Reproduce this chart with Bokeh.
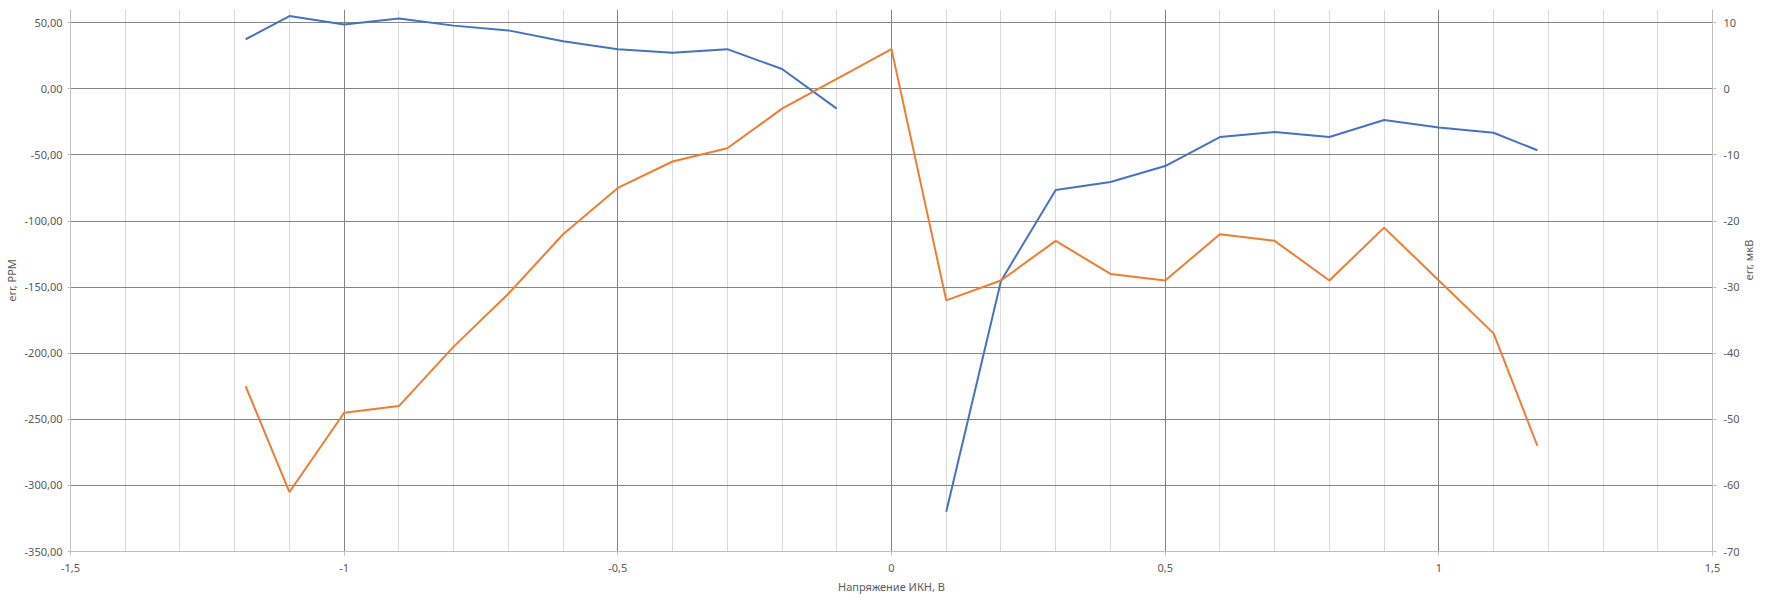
from bokeh.plotting import figure
from bokeh.models import Range1d, LinearAxis, FixedTicker, Grid
from bokeh.embed import file_html
from bokeh.resources import INLINE
import numpy as np
import math

# ---- data ----
x_vals = [-1.18, -1.1, -1.0, -0.9, -0.8, -0.7, -0.6, -0.5, -0.4, -0.3, -0.2, -0.1, 0.0,
          0.1, 0.2, 0.3, 0.4, 0.5, 0.6, 0.7, 0.8, 0.9, 1.0, 1.1, 1.18]
err_ppm = [37.5, 55.0, 48.7, 53.2, 47.8, 44.2, 36.0, 30.0, 27.2, 30.0, 15.0, -15.0, np.nan,
           -320.0, -145.3, -76.5, -70.5, -58.4, -36.5, -32.7, -36.5, -23.6, -29.2, -33.2, -46.5]
err_uv = [-45, -61, -49, -48, -39, -31, -22, -15, -11, -9, -3, 1.5, 6,
          -32, -29, -23, -28, -29, -22, -23, -29, -21, -29, -37, -54]

x_ticks = [-1.5, -1.0, -0.5, 0.0, 0.5, 1.0, 1.5]
x_tick_labels = ["-1,5", "-1", "-0,5", "0", "0,5", "1", "1,5"]
x_minor = [-1.4, -1.3, -1.2, -1.1, -0.9, -0.8, -0.7, -0.6, -0.4, -0.3, -0.2, -0.1,
           0.1, 0.2, 0.3, 0.4, 0.6, 0.7, 0.8, 0.9, 1.1, 1.2, 1.3, 1.4]
left_ticks = [-350, -300, -250, -200, -150, -100, -50, 0, 50]
left_tick_labels = ["-350,00", "-300,00", "-250,00", "-200,00", "-150,00", "-100,00", "-50,00", "0,00", "50,00"]
right_ticks = [-70, -60, -50, -40, -30, -20, -10, 0, 10]
right_tick_labels = ["-70", "-60", "-50", "-40", "-30", "-20", "-10", "0", "10"]

x_title = "Напряжение ИКН, В"
left_title = "err, PPM"
right_title = "err, мкВ"

BLUE = "#4472C4"
ORANGE = "#ED7D31"
TXT = "#595959"
FONT = "Noto Sans"

p = figure(frame_width=1642, frame_height=542, output_backend="svg", toolbar_location=None,
           x_range=Range1d(-1.5, 1.5), y_range=Range1d(-350, 60),
           min_border_left=62, min_border_right=52, min_border_top=9, min_border_bottom=36)
p.extra_y_ranges = {"right": Range1d(-70, 12)}
p.outline_line_color = None
p.background_fill_color = "white"
p.border_fill_color = "white"
p.xgrid.visible = False
p.ygrid.visible = False

p.add_layout(Grid(dimension=0, ticker=FixedTicker(ticks=x_minor), grid_line_color="#d9d9d9", grid_line_width=1))
p.add_layout(Grid(dimension=0, ticker=FixedTicker(ticks=[-1.0, -0.5, 0.0, 0.5, 1.0]), grid_line_color="#858585", grid_line_width=1))
p.add_layout(Grid(dimension=1, ticker=FixedTicker(ticks=left_ticks[1:]), grid_line_color="#858585", grid_line_width=1))

p.line(x_vals, err_ppm, line_color=BLUE, line_width=2)
p.line(x_vals, err_uv, line_color=ORANGE, line_width=2, y_range_name="right")

def style(ax):
    ax.major_label_text_font = FONT
    ax.major_label_text_font_size = "11px"
    ax.major_label_text_color = TXT
    ax.axis_label_text_font = FONT
    ax.axis_label_text_font_size = "11px"
    ax.axis_label_text_color = TXT
    ax.axis_label_text_font_style = "normal"
    ax.axis_line_color = "#bfbfbf"
    ax.major_tick_line_color = "#bfbfbf"
    ax.minor_tick_line_color = None
    ax.major_tick_in = 0
    ax.major_tick_out = 4

xa = p.xaxis[0]
xa.ticker = FixedTicker(ticks=x_ticks)
xa.major_label_overrides = {t: l for t, l in zip(x_ticks, x_tick_labels)}
xa.axis_label = x_title
style(xa)
xa.major_label_standoff = 8
xa.axis_label_standoff = 4

ya = p.yaxis[0]
ya.ticker = FixedTicker(ticks=left_ticks)
ya.major_label_overrides = {t: l for t, l in zip(left_ticks, left_tick_labels)}
ya.axis_label = left_title
style(ya)
ya.major_tick_out = 3
ya.major_label_standoff = 5
ya.axis_label_standoff = 3

ra = LinearAxis(y_range_name="right", ticker=FixedTicker(ticks=right_ticks))
ra.major_label_overrides = {t: l for t, l in zip(right_ticks, right_tick_labels)}
ra.axis_label = right_title
style(ra)
ra.major_label_standoff = 7
ra.axis_label_standoff = 6
if "axis_label_orientation" in ra.properties():
    ra.axis_label_orientation = math.pi / 2
p.add_layout(ra, "right")

open("out.html", "w").write(file_html(p, INLINE))
